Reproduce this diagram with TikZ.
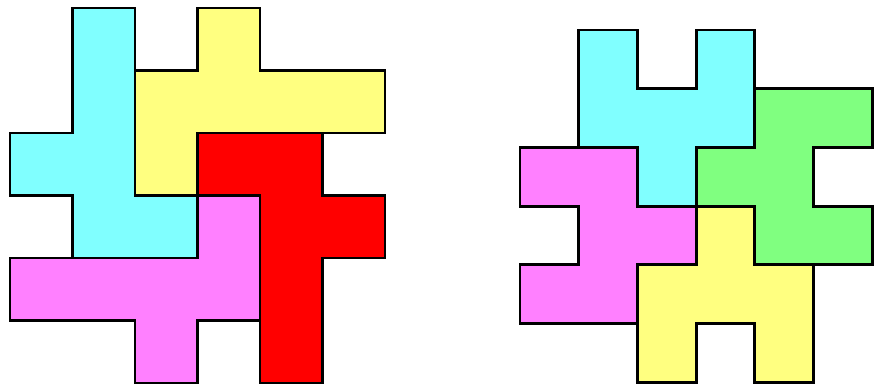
\documentclass[tikz,border=0pt]{standalone}
\usepackage{tikz}

\definecolor{hexcyan}{RGB}{128,255,255}
\definecolor{hexyellow}{RGB}{255,255,128}
\definecolor{hexred}{RGB}{255,0,0}
\definecolor{hexpink}{RGB}{255,128,255}
\definecolor{hexgreen}{RGB}{128,255,128}
\tikzset{piece/.style={draw=black,line width=1.6pt,line join=miter}}

\begin{document}
\begin{tikzpicture}
  \useasboundingbox (0,0) rectangle (17.7,7.76);
  % left square: four hexominoes
  \begin{scope}[shift={(0.2,7.6)},x=1.25cm,y=-1.25cm]
  \filldraw[piece,fill=hexcyan] (1,0) -- (2,0) -- (2,3) -- (3,3) -- (3,4) -- (1,4)
      -- (1,3) -- (0,3) -- (0,2) -- (1,2) -- cycle;
  \filldraw[piece,fill=hexyellow] (3,0) -- (4,0) -- (4,1) -- (6,1) -- (6,2) -- (3,2)
      -- (3,3) -- (2,3) -- (2,1) -- (3,1) -- cycle;
  \filldraw[piece,fill=hexred] (3,2) -- (5,2) -- (5,3) -- (6,3) -- (6,4) -- (5,4)
      -- (5,6) -- (4,6) -- (4,3) -- (3,3) -- cycle;
  \filldraw[piece,fill=hexpink] (3,3) -- (4,3) -- (4,5) -- (3,5) -- (3,6) -- (2,6)
      -- (2,5) -- (0,5) -- (0,4) -- (3,4) -- cycle;
  \end{scope}
  %
  % right square
  \begin{scope}[shift={(10.4,7.16)},x=1.174cm,y=-1.174cm]
  \filldraw[piece,fill=hexcyan] (1,0) -- (2,0) -- (2,1) -- (3,1) -- (3,0) -- (4,0)
      -- (4,2) -- (3,2) -- (3,3) -- (2,3) -- (2,2) -- (1,2) -- cycle;
  \filldraw[piece,fill=hexgreen] (4,1) -- (6,1) -- (6,2) -- (5,2) -- (5,3) -- (6,3)
      -- (6,4) -- (4,4) -- (4,3) -- (3,3) -- (3,2) -- (4,2) -- cycle;
  \filldraw[piece,fill=hexpink] (0,2) -- (2,2) -- (2,3) -- (3,3) -- (3,4) -- (2,4)
      -- (2,5) -- (0,5) -- (0,4) -- (1,4) -- (1,3) -- (0,3) -- cycle;
  \filldraw[piece,fill=hexyellow] (3,3) -- (4,3) -- (4,4) -- (5,4) -- (5,6) -- (4,6)
      -- (4,5) -- (3,5) -- (3,6) -- (2,6) -- (2,4) -- (3,4) -- cycle;
  \end{scope}
\end{tikzpicture}
\end{document}
